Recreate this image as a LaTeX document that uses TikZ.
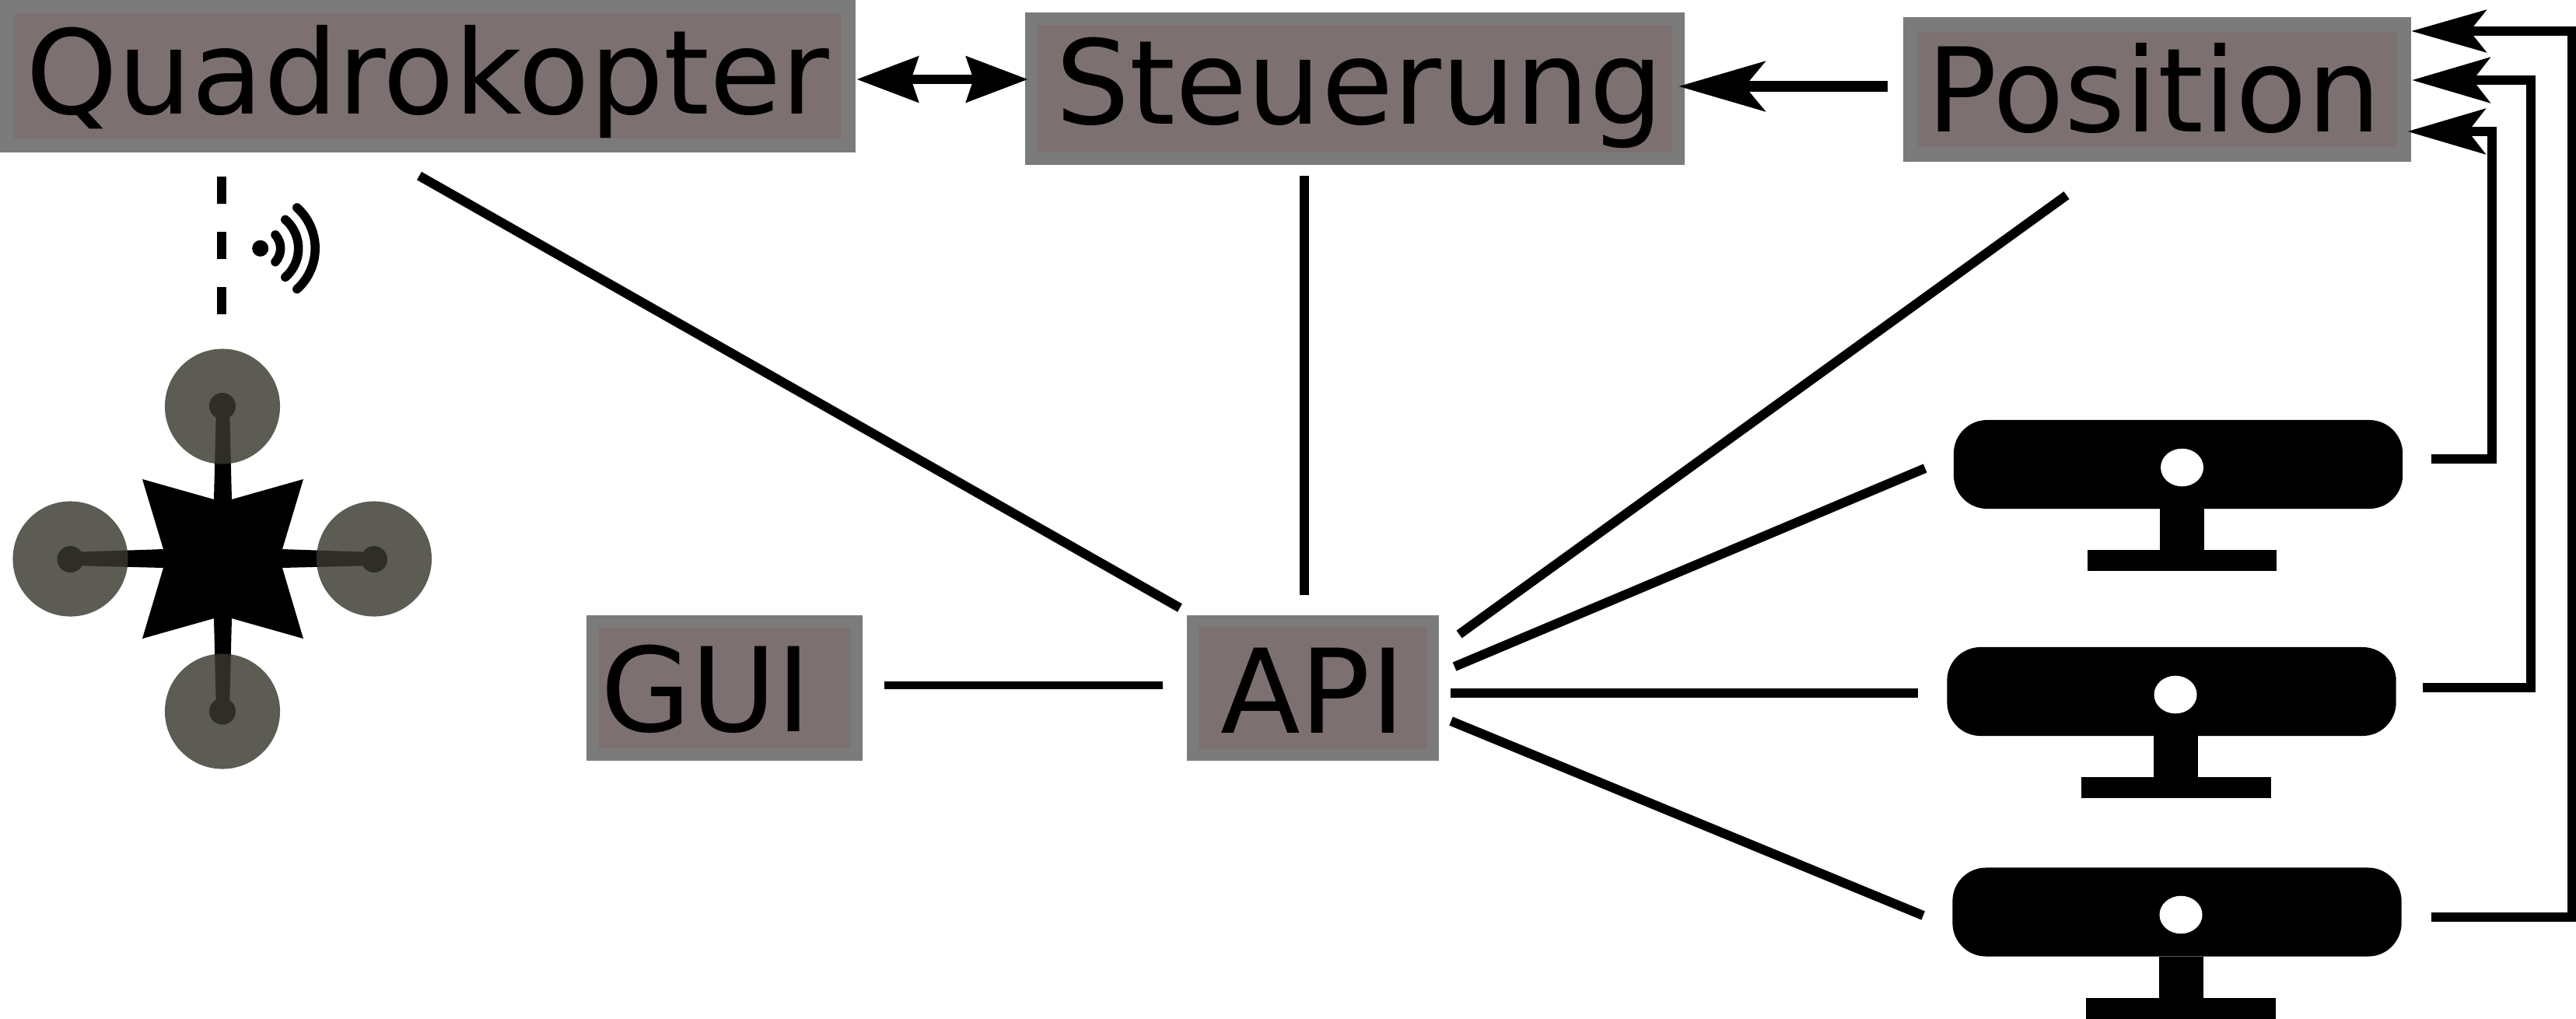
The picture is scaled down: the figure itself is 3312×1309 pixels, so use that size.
\documentclass[tikz,border=0pt]{standalone}
\usepackage{fontspec}
\setmainfont{DejaVu Sans}
\usepackage{tikz}
\usetikzlibrary{arrows.meta}
\definecolor{boxedge}{HTML}{7B7B7B}
\definecolor{boxfill}{HTML}{7D7070}
\definecolor{rotorfill}{RGB}{57,56,47}
\begin{document}
\begin{tikzpicture}[x=0.01cm,y=0.01cm]
\tikzstyle{every node}+=[inner sep=0pt]
\tikzstyle{block}=[draw=boxedge,fill=boxfill,text depth=0pt,font=\fontsize{42.7}{50}\selectfont]
\tikzstyle{wire}=[black,line width=0.12cm]
\tikzstyle{feed}=[wire,-{Stealth[length=1cm,width=0.58cm,inset=0.22cm]}]
\tikzstyle{camera}=[fill=black,rounded corners=0.43cm,minimum width=5.77cm,minimum height=1.14cm]
\tikzstyle{rotor}=[circle,fill=rotorfill,opacity=0.824,minimum size=1.48cm]
\tikzstyle{hub}=[circle,fill=black,minimum size=0.34cm]
\tikzstyle{wave}=[black,line width=0.115cm,line cap=round]
\useasboundingbox (0,0) rectangle (3312,-1309);
\node [block,line width=0.18cm,minimum width=10.82cm,minimum height=1.78cm,text height=0.96cm] (quad) at (550,-98) {Quadrokopter};
\node [block,line width=0.16cm,minimum width=8.32cm,minimum height=1.8cm,text height=0.9cm] (steuerung) at (1742,-114) {\hspace{0.12cm}Steuerung};
\node [block,line width=0.19cm,minimum width=6.34cm,minimum height=1.67cm,text height=1.08cm] (position) at (2773.5,-115) {Position\kern0.08cm};
\node [block,line width=0.16cm,minimum width=3.39cm,minimum height=1.71cm,text height=1.11cm] (gui) at (931.5,-884.5) {GUI\kern0.48cm};
\node [block,line width=0.15cm,minimum width=3.09cm,minimum height=1.71cm,text height=1.15cm] (api) at (1688,-884.5) {API};
\node [camera] (camA) at (2800.5,-597) {};
\fill [black] (2777,-654) rectangle (2834,-707);
\fill [black] (2684,-707) rectangle (2927,-734);
\fill [white] (2805.5,-601) ellipse (27.5 and 24.3);
\node [camera] (camB) at (2792,-889) {};
\fill [black] (2768.5,-946) rectangle (2825.5,-999);
\fill [black] (2676,-999) rectangle (2919.5,-1026);
\fill [white] (2797,-893) ellipse (27.5 and 24.3);
\node [camera] (camC) at (2799,-1172.5) {};
\fill [black] (2776,-1230) rectangle (2833,-1283);
\fill [black] (2682,-1283) rectangle (2926,-1310);
\fill [white] (2804,-1176) ellipse (27.5 and 24.3);
\fill [black] (278,-522) -- (295,-522) -- (298,-642) -- (390,-616) -- (363,-706) -- (481,-710) -- (481,-727) -- (363,-730) -- (390,-821) -- (298,-795) -- (295,-914) -- (278,-914) -- (275,-795) -- (183,-821) -- (210,-730) -- (90,-727) -- (90,-710) -- (210,-706) -- (183,-616) -- (275,-642) -- cycle;
\node [hub] (hubN) at (286,-522) {};
\node [hub] (hubE) at (481,-719) {};
\node [hub] (hubS) at (286,-914.5) {};
\node [hub] (hubW) at (90.5,-719) {};
\node [rotor] (rotorN) at (286,-522.5) {};
\node [rotor] (rotorE) at (481,-718.5) {};
\node [rotor] (rotorS) at (286,-914.5) {};
\node [rotor] (rotorW) at (90.5,-718.5) {};
\draw [wire,dash pattern=on 0.35cm off 0.36cm] ([shift={(-265.3,-31)}]quad.south) -- ([shift={(-1.3,43)}]rotorN.north);
\node [circle,fill=black,minimum size=0.21cm] (wifi) at (334.7,-319.3) {};
\draw [wave] ([shift={(-42:26)}]wifi.center) arc (-42:42:26);
\draw [wave] ([shift={(-49:49)}]wifi.center) arc (-49:49:49);
\draw [wave] ([shift={(-48:70.5)}]wifi.center) arc (-48:48:70.5);
\draw [wire,{Stealth[length=0.79cm,width=0.58cm,inset=0.09cm]}-{Stealth[length=0.79cm,width=0.58cm,inset=0.09cm]}] ([shift={(1,-4)}]quad.east) -- ([shift={(4,12)}]steuerung.west);
\draw [wire,line width=0.13cm,-{Stealth[length=1.11cm,width=0.64cm,inset=0.26cm]}] ([shift={(-20,4)}]position.west) -- ([shift={(-8,3)}]steuerung.east);
\draw [feed] ([shift={(36,7)}]camA.east) -- ++(78,0) |- ([shift={(-5,-54)}]position.east);
\draw [feed] ([shift={(34,5)}]camB.east) -- ++(139,0) |- ([shift={(1,12)}]position.east);
\draw [feed,-{Stealth[length=0.96cm,width=0.54cm,inset=0.21cm]}] ([shift={(38,-6.5)}]camC.east) -- ++(180.5,0) |- ([shift={(0,75)}]position.east);
\draw [wire] ([shift={(-11,-30)}]quad.south) -- ([shift={(-9,10)}]api.north west);
\draw [wire] ([shift={(-65.5,-14)}]steuerung.south) -- ([shift={(-11.5,26)}]api.north);
\draw [wire] ([shift={(-116.5,-43)}]position.south) -- ([shift={(26,-24)}]api.north east);
\draw [wire,line width=0.1cm] ([shift={(28,3.5)}]gui.east) -- ([shift={(-31,3.5)}]api.west);
\draw [wire] ([shift={(20,27.5)}]api.east) -- ([shift={(-36,-5)}]camA.west);
\draw [wire] ([shift={(15,-6.5)}]api.east) -- ([shift={(-37,-2)}]camB.west);
\draw [wire] ([shift={(15.5,-42.5)}]api.east) -- ([shift={(-37,-4.5)}]camC.west);
\end{tikzpicture}
\end{document}
